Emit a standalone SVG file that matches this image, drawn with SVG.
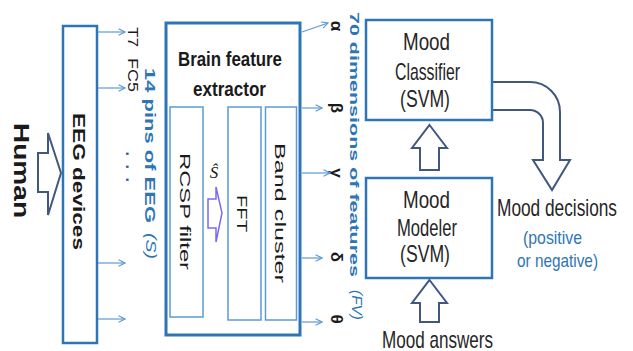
<svg xmlns="http://www.w3.org/2000/svg" width="633" height="351" viewBox="0 0 633 351">
  <style>
    .box { fill: #ffffff; stroke: #2E75B6; stroke-width: 2.5; }
    .bfe { fill: #ffffff; stroke: #2E75B6; stroke-width: 3; }
    .inner { fill: #ffffff; stroke: #5B9BD5; stroke-width: 1.5; }
    .block { fill: #ffffff; stroke: #41587E; stroke-width: 2; stroke-linejoin: miter; }
    .purple { fill: #ffffff; stroke: #7A6CF0; stroke-width: 1.5; }
    .link { fill: none; stroke: #5B9BD5; stroke-width: 1.2; marker-end: url(#ah); }
    text { font-family: "Liberation Sans", Arial, sans-serif; fill: #1a1a1a; }
    .b { font-weight: bold; }
    .blue { fill: #2E75B6; }
    .it { font-style: italic; }
    .mood { font-size: 24px; fill: #262626; }
    .greek { font-size: 17px; font-weight: bold; text-anchor: middle; }
  </style>
  <defs>
    <marker id="ah" viewBox="0 0 10 10" refX="9" refY="5" markerWidth="8" markerHeight="8" markerUnits="userSpaceOnUse" orient="auto">
      <path d="M1,1 L9,5 L1,9" fill="none" stroke="#5B9BD5" stroke-width="1.4"/>
    </marker>
  </defs>

  <!-- Human input -->
  <g id="human">
    <text class="b" font-size="22" transform="translate(14,123) rotate(90)" textLength="95" lengthAdjust="spacingAndGlyphs">Human</text>
    <path class="block" d="M38,153 L48,153 L48,133 L61,173 L48,215 L48,192 L38,192 Z"/>
  </g>

  <!-- EEG acquisition -->
  <g id="eeg-devices">
    <rect class="box" x="63" y="26" width="34" height="317"/>
    <text class="b" font-size="17" transform="translate(73,113) rotate(90)" textLength="137" lengthAdjust="spacingAndGlyphs">EEG devices</text>
  </g>

  <!-- channel labels -->
  <g id="eeg-pins">
    <text font-size="14" transform="translate(128,27) rotate(90)" textLength="20" lengthAdjust="spacingAndGlyphs">T7</text>
    <text font-size="14" transform="translate(128,58) rotate(90)" textLength="34" lengthAdjust="spacingAndGlyphs">FC5</text>
    <text class="b" font-size="16" style="fill:#1F5FA8" transform="translate(126,0) rotate(90)"><tspan x="151.5">.</tspan><tspan x="164.5">.</tspan><tspan x="177.5">.</tspan></text>
    <text class="b blue" font-size="15" transform="translate(145,68) rotate(90)" textLength="155" lengthAdjust="spacingAndGlyphs">14 pins of EEG</text>
    <text class="it blue" font-size="15" transform="translate(146,233) rotate(90)" textLength="26" lengthAdjust="spacingAndGlyphs">(S)</text>
  </g>

  <!-- feature extraction stage -->
  <g id="brain-feature-extractor">
    <rect class="bfe" x="166" y="23" width="134" height="312"/>
    <text class="b" font-size="21" x="230" y="66" text-anchor="middle" textLength="104" lengthAdjust="spacingAndGlyphs">Brain feature</text>
    <text class="b" font-size="21" x="229.5" y="96" text-anchor="middle" textLength="73" lengthAdjust="spacingAndGlyphs">extractor</text>
    <g id="rcsp-filter">
      <rect class="inner" x="170" y="107" width="33" height="210"/>
      <text font-size="15.5" transform="translate(180,153) rotate(90)" textLength="117" lengthAdjust="spacingAndGlyphs">RCSP filter</text>
    </g>
    <g id="fft">
      <rect class="inner" x="228" y="107" width="33" height="213"/>
      <text font-size="14.5" transform="translate(237,195) rotate(90)" textLength="37" lengthAdjust="spacingAndGlyphs">FFT</text>
    </g>
    <g id="band-cluster">
      <rect class="inner" x="265.5" y="107" width="31" height="213"/>
      <text font-size="15.5" transform="translate(275,143) rotate(90)" textLength="140" lengthAdjust="spacingAndGlyphs">Band cluster</text>
    </g>
    <text style="font-family:'Liberation Serif',serif" class="it" font-size="17" x="214" y="178" text-anchor="middle">Ŝ</text>
    <path class="purple" d="M208,199 L216,199 L216,187 L222,213 L216,242 L216,228 L208,228 Z"/>
  </g>

  <!-- feature vector labels -->
  <g id="feature-bands">
    <text class="greek" transform="translate(331,26) rotate(90)">α</text>
    <text class="greek" transform="translate(331,108) rotate(90)">β</text>
    <text class="greek" transform="translate(331,173) rotate(90)">γ</text>
    <text class="greek" transform="translate(331,257) rotate(90)">δ</text>
    <text class="greek" transform="translate(331,319) rotate(90)">θ</text>
    <text class="b blue" font-size="13.5" transform="translate(350,12) rotate(90)" textLength="265" lengthAdjust="spacingAndGlyphs">70 dimensions of features</text>
    <text class="it blue" font-size="14" transform="translate(352,290) rotate(90)" textLength="30" lengthAdjust="spacingAndGlyphs">(FV)</text>
  </g>

  <!-- decision flow -->
  <path id="decision-arrow" class="block" d="M492,82 L530,82 A30,30 0 0 1 560,112 L560,160 L570,160 L552,190 L533,160 L543,160 L543,123 A13,13 0 0 0 530,110 L492,110"/>

  <g id="mood-classifier">
    <rect class="box" x="366" y="20" width="126" height="100"/>
    <text class="mood" x="403" y="50" textLength="47" lengthAdjust="spacingAndGlyphs">Mood</text>
    <text class="mood" x="395" y="80" textLength="65" lengthAdjust="spacingAndGlyphs">Classifier</text>
    <text class="mood" x="400" y="107" textLength="50" lengthAdjust="spacingAndGlyphs">(SVM)</text>
  </g>

  <g id="mood-modeler">
    <rect class="box" x="366" y="178" width="126" height="100"/>
    <text class="mood" x="403" y="208" textLength="47" lengthAdjust="spacingAndGlyphs">Mood</text>
    <text class="mood" x="397" y="236" textLength="60" lengthAdjust="spacingAndGlyphs">Modeler</text>
    <text class="mood" x="400" y="262" textLength="50" lengthAdjust="spacingAndGlyphs">(SVM)</text>
  </g>

  <g id="mood-answers">
    <text class="mood" x="382" y="348" textLength="111" lengthAdjust="spacingAndGlyphs">Mood answers</text>
  </g>

  <g id="mood-decisions">
    <text class="mood" x="497" y="216" textLength="120" lengthAdjust="spacingAndGlyphs">Mood decisions</text>
    <text class="blue" font-size="19" x="523" y="244" textLength="59" lengthAdjust="spacingAndGlyphs">(positive</text>
    <text class="blue" font-size="19" x="517" y="267" textLength="81" lengthAdjust="spacingAndGlyphs">or negative)</text>
  </g>

  <!-- connectors -->
  <g id="connectors">
    <line class="link" x1="98" y1="32" x2="125" y2="32"/>
    <line class="link" x1="98" y1="88" x2="125" y2="88"/>
    <line class="link" x1="98" y1="263" x2="125" y2="263"/>
    <line class="link" x1="98" y1="319" x2="125" y2="319"/>
    <line class="link" x1="302" y1="32" x2="328" y2="23"/>
    <line class="link" x1="302" y1="108" x2="322" y2="108"/>
    <line class="link" x1="302" y1="173" x2="330" y2="173"/>
    <line class="link" x1="302" y1="258" x2="322" y2="258"/>
    <line class="link" x1="302" y1="322" x2="322" y2="322"/>
    <path class="block" d="M429.5,125 L447,148 L439,148 L439,170 L420,170 L420,148 L412,148 Z"/>
    <path class="block" d="M429.5,280 L447,303 L439,303 L439,322 L420,322 L420,303 L412,303 Z"/>
  </g>
</svg>
